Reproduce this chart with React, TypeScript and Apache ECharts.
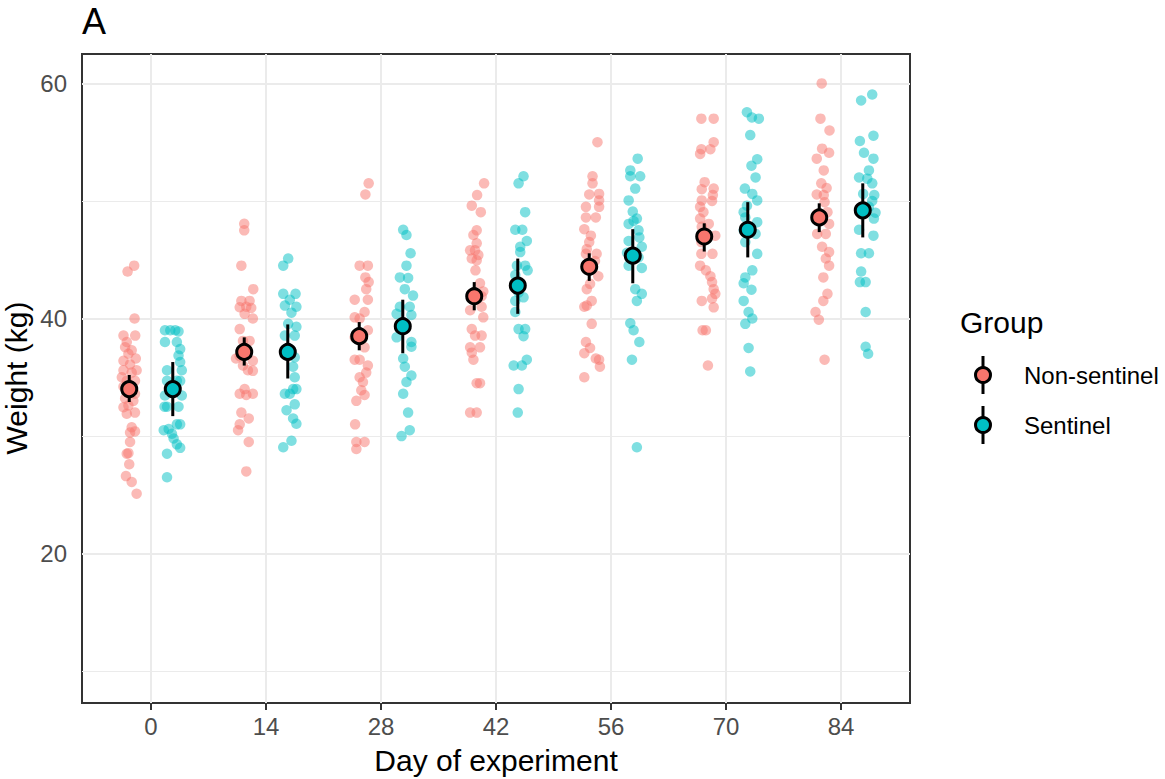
import React, { useEffect, useRef } from "react";
import * as echarts from "echarts";

const days = [0, 14, 28, 42, 56, 70, 84];
const yMajor = [20, 40, 60];
const yMinor = [10, 30, 50];

const groups = ["Non-sentinel", "Sentinel"];
const colors = ["#F8766D", "#00BFC4"];

const nsMean = [34.0, 37.16, 38.5, 41.9, 44.4, 46.98, 48.6];
const nsLo = [32.9, 36.0, 37.3, 40.7, 43.2, 45.7, 47.35];
const nsHi = [35.2, 38.4, 39.7, 43.1, 45.55, 48.1, 49.8];

const sMean = [34.0, 37.16, 39.35, 42.8, 45.35, 47.55, 49.2];
const sLo = [31.7, 34.9, 37.05, 40.4, 43.0, 45.2, 46.9];
const sHi = [36.3, 39.5, 41.6, 45.1, 47.6, 49.9, 51.5];

// individual animals: [jitter (days), weight (kg)] per day
const nsDay0 = [[-0.2,44.0],[0.6,44.5],[0.65,40.0],[-0.7,38.55],[0.73,38.55],[-0.3,38.0],[-0.5,37.56],[0.3,37.3],[-0.1,37.0],[0.8,36.6],[-0.7,36.4],[0.1,36.1],[0.9,35.6],[-0.7,35.6],[0.3,35.4],[-0.9,35.0],[-0.3,34.7],[0.7,34.7],[-0.7,34.2],[0.7,33.6],[-0.5,33.2],[0.5,33.0],[-0.1,32.6],[-0.7,32.45],[0.7,32.0],[-0.3,31.9],[0.3,30.75],[0.1,30.3],[0.7,30.4],[0.1,29.5],[-0.3,28.5],[-0.1,28.55],[0,27.6],[-0.4,26.6],[0.3,26.1],[0.9,25.1]];
const nsDay14 = [[0,48.06],[0,47.5],[-0.35,44.5],[1.1,42.5],[-0.35,41.5],[0.65,41.5],[-0.55,40.96],[0.25,41.0],[0.85,40.9],[0.05,40.4],[1.05,40.0],[-0.55,39.1],[0.65,38.1],[-0.15,38.1],[-1.0,36.6],[-0.55,36.8],[1.05,36.4],[-0.15,36.0],[0.45,35.6],[1.05,35.55],[0.05,34.0],[-0.55,33.6],[1.05,33.6],[0.25,33.5],[-0.35,32.0],[0.55,31.5],[-0.55,31.0],[-0.75,30.5],[0.55,29.5],[0.25,27.0]];
const nsDay28 = [[1.15,51.5],[0.75,50.55],[0.05,44.5],[1.05,44.5],[0.75,43.5],[1.15,43.1],[0.85,42.5],[-0.55,41.6],[1.05,41.6],[0.65,40.55],[-0.55,40.1],[0.05,40.0],[1.05,39.0],[-0.55,38.4],[0.65,37.55],[-0.55,36.5],[0.05,36.5],[1.05,36.0],[0.85,35.4],[0.05,35.0],[0.45,34.6],[0.25,33.9],[-0.35,33.0],[0.65,33.5],[-0.5,31.0],[-0.35,29.5],[0.65,29.5],[-0.35,28.9]];
const nsDay42 = [[1.2,51.5],[0.35,50.5],[-0.3,49.6],[0.8,49.05],[0.3,47.5],[-0.1,47.1],[0.3,46.4],[-0.5,45.8],[0.1,45.8],[0.5,45.4],[-0.3,45.1],[0.3,44.95],[0.15,44.1],[0.7,43.0],[1.1,42.3],[-0.3,42.1],[0.9,41.9],[-0.5,40.7],[0.9,41.0],[1.1,40.1],[-0.3,39.1],[0.9,38.55],[0.1,38.55],[-0.5,37.55],[0.7,37.55],[-0.3,37.1],[-0.1,36.5],[0.7,34.5],[0.3,34.5],[-0.5,32.0],[0.3,32.0]];
const nsDay56 = [[1.0,55.0],[0.4,52.1],[0.4,51.5],[1.2,50.6],[0,50.55],[1.2,50.05],[1.2,49.5],[-0.4,49.5],[-0.4,48.6],[0.8,48.6],[-0.6,47.6],[0.2,47.05],[0,46.5],[-0.3,45.9],[0.9,45.5],[-0.4,45.5],[0.7,44.9],[1.1,43.6],[0.1,42.95],[-0.3,42.5],[0.3,41.5],[-0.3,41.1],[-0.6,41.0],[0.3,39.55],[-0.4,38.0],[0.1,37.5],[-0.6,37.05],[0.8,36.6],[1.2,36.5],[1.3,35.9],[-0.6,35.0]];
const nsDay70 = [[-0.35,57.0],[1.15,57.0],[1.15,55.0],[0.75,54.4],[-0.35,54.4],[-0.5,54.0],[0.05,51.6],[1.15,51.05],[-0.3,51.0],[1.05,50.5],[-0.3,50.05],[0.95,50.0],[-0.5,49.5],[-0.1,49.05],[-0.5,48.5],[0.55,48.05],[-0.3,47.8],[1.35,47.05],[-0.35,46.5],[1.0,45.5],[-0.35,45.5],[-0.5,44.5],[0.2,44.1],[0.75,43.6],[0.95,43.1],[1.15,42.5],[1.35,42.1],[0.95,41.7],[-0.3,41.5],[1.15,40.95],[-0.2,39.0],[0.2,39.0],[0.45,36.0]];
const nsDay84 = [[0.3,60.0],[0.15,57.0],[1.25,56.0],[0.35,54.45],[1.2,54.1],[-0.3,53.6],[0.55,52.6],[0.25,51.5],[0.9,51.1],[-0.3,50.55],[0.55,50.5],[0.65,49.9],[1.0,49.05],[-0.25,48.9],[1.2,48.05],[-0.25,47.2],[0.8,47.2],[0.35,46.1],[1.2,45.65],[0.8,45.1],[1.2,44.5],[0.5,43.5],[1.0,42.1],[0.5,41.5],[-0.45,40.55],[-0.05,39.9],[0.65,36.5]];

const sDay0 = [[-0.95,39.0],[-0.3,39.0],[0.3,39.0],[0.7,38.9],[-0.95,38.0],[0.5,38.0],[0.9,37.4],[0.7,36.85],[0.9,36.3],[-0.7,35.6],[1.1,35.6],[0.5,34.7],[-0.7,34.7],[0.9,34.7],[-0.95,33.45],[1.1,33.45],[-0.7,32.5],[0.7,32.5],[-1.0,32.5],[0.9,31.0],[0.5,31.0],[-0.5,30.6],[-1.1,30.5],[-0.1,30.2],[0.1,29.8],[0.5,29.3],[0.9,29.0],[-0.7,28.5],[-0.7,26.5]];
const sDay14 = [[0.05,45.1],[-0.55,44.5],[-0.55,42.1],[0.95,42.1],[0.25,41.6],[-0.35,41.1],[1.05,41.0],[0.45,40.5],[0.05,39.55],[1.05,39.3],[-0.35,38.55],[0.85,38.55],[0.85,36.7],[0.65,35.9],[0.85,35.0],[1.05,34.0],[0.65,34.0],[-0.35,33.6],[0.25,33.6],[0.85,32.7],[-0.15,32.2],[0.65,31.5],[1.05,31.05],[0.45,29.6],[-0.55,29.05]];
const sDay28 = [[0.05,47.55],[0.45,47.1],[0.95,45.55],[0.45,44.5],[-0.35,43.5],[0.65,43.45],[0.25,42.5],[1.25,41.95],[-0.35,41.0],[0.85,41.0],[-0.75,40.4],[1.05,40.3],[-0.75,38.4],[1.05,38.0],[1.05,37.6],[0.05,36.6],[0.25,35.9],[1.05,35.15],[0.45,34.6],[0.05,33.6],[0.65,32.0],[0.85,30.5],[-0.15,30.0]];
const sDay42 = [[0.7,52.1],[0.1,51.5],[0.9,49.05],[-0.3,47.55],[0.55,47.55],[1.1,46.6],[0.3,46.1],[0.3,45.65],[-0.1,44.5],[0.9,44.5],[1.2,44.1],[-0.3,43.7],[-0.1,42.9],[0.1,42.2],[0.7,41.8],[-0.3,41.5],[-0.3,40.55],[0.1,39.1],[0.9,39.1],[0.7,38.5],[1.1,36.5],[-0.5,36.0],[0.5,36.0],[0.1,34.0],[0,32.0]];
const sDay56 = [[0.6,53.6],[-0.3,52.6],[0.9,52.1],[-0.3,52.1],[0.3,51.05],[-0.5,50.05],[0,49.1],[0.5,48.5],[-0.5,48.05],[0.1,48.3],[0.7,47.5],[0.8,46.9],[-0.5,46.6],[1.1,46.1],[-0.7,45.6],[0.7,45.2],[-0.5,44.5],[1.1,44.3],[0.3,42.5],[1.1,42.1],[0.5,41.5],[-0.3,39.6],[0.1,39.0],[0.8,38.0],[-0.1,36.5],[0.5,29.05]];
const sDay70 = [[-0.1,57.55],[0.5,57.1],[1.35,57.0],[0.3,55.6],[1.15,53.55],[0.45,53.0],[0.95,52.0],[-0.35,51.05],[0.55,50.6],[1.15,50.05],[-0.1,49.6],[-0.5,49.05],[-0.3,48.6],[1.15,48.2],[-0.5,47.5],[0.95,47.2],[-0.3,46.5],[1.15,45.5],[0.55,44.1],[-0.3,43.5],[-0.5,43.0],[0.45,42.45],[-0.5,41.5],[0.1,40.55],[0.55,40.0],[-0.3,39.55],[0.1,37.5],[0.3,35.5]];
const sDay84 = [[1.15,59.05],[-0.2,58.55],[1.3,55.55],[-0.35,55.1],[0.15,54.1],[1.3,53.6],[0.75,52.6],[-0.45,52.0],[0.55,51.9],[1.15,51.5],[0.05,50.6],[1.4,50.5],[1.15,50.0],[0.75,49.5],[1.55,49.0],[1.35,48.5],[-0.45,47.55],[1.3,47.05],[-0.2,45.55],[0.75,45.55],[-0.2,44.0],[-0.35,43.1],[0.35,43.1],[0.35,40.55],[0.35,37.6],[0.65,37.0]];

const nsPoints = [nsDay0, nsDay14, nsDay28, nsDay42, nsDay56, nsDay70, nsDay84];
const sPoints = [sDay0, sDay14, sDay28, sDay42, sDay56, sDay70, sDay84];

const DODGE = 2.65;
const FONT = "'Liberation Sans', Arial, Helvetica, sans-serif";

export default function App() {
  const ref = useRef<HTMLDivElement>(null);
  useEffect(() => {
    if (!ref.current) return;
    const chart = echarts.init(ref.current, undefined, { renderer: "svg" });

    const groupSeries = (gi: number) => {
      const pts = gi === 0 ? nsPoints : sPoints;
      const mean = gi === 0 ? nsMean : sMean;
      const lo = gi === 0 ? nsLo : sLo;
      const hi = gi === 0 ? nsHi : sHi;
      const off = gi === 0 ? -DODGE : DODGE;
      const raw: number[][] = [];
      days.forEach((d, i) => pts[i].forEach((p) => raw.push([d + off + p[0], p[1]])));
      return {
        jitter: {
          type: "scatter",
          name: groups[gi],
          z: 10 + gi,
          symbol: "circle",
          symbolSize: 10.5,
          itemStyle: { color: colors[gi], opacity: 0.5 },
          data: raw,
          silent: true,
        },
        bars: {
          type: "custom",
          name: groups[gi] + " CI",
          z: 20 + gi * 2,
          data: days.map((d, i) => [d + off, lo[i], hi[i]]),
          encode: { x: 0, y: [1, 2] },
          renderItem: (params: any, api: any) => {
            const x = api.value(0);
            const p1 = api.coord([x, api.value(1)]);
            const p2 = api.coord([x, api.value(2)]);
            return {
              type: "line",
              shape: { x1: p1[0], y1: p1[1], x2: p2[0], y2: p2[1] },
              style: { stroke: "#000", lineWidth: 3 },
            };
          },
          silent: true,
        },
        means: {
          type: "scatter",
          name: groups[gi] + " mean",
          z: 21 + gi * 2,
          symbol: "circle",
          symbolSize: 15,
          itemStyle: { color: colors[gi], borderColor: "#000", borderWidth: 3, opacity: 1 },
          data: days.map((d, i) => [d + off, mean[i]]),
          silent: true,
        },
      };
    };

    const g0 = groupSeries(0);
    const g1 = groupSeries(1);

    const gridLines = [
      ...yMinor.map((v) => ({ yAxis: v, lineStyle: { color: "#EBEBEB", width: 1, type: "solid" } })),
      ...yMajor.map((v) => ({ yAxis: v, lineStyle: { color: "#EBEBEB", width: 2, type: "solid" } })),
      ...days.map((v) => ({ xAxis: v, lineStyle: { color: "#EBEBEB", width: 2, type: "solid" } })),
    ];

    const legendY = [375, 425];

    chart.setOption({
      animation: false,
      backgroundColor: "#FFFFFF",
      textStyle: { fontFamily: FONT },
      grid: {
        left: 82,
        top: 54,
        width: 828,
        height: 649,
        show: true,
        borderColor: "#333333",
        borderWidth: 2,
        backgroundColor: "transparent",
        containLabel: false,
      },
      xAxis: {
        type: "value",
        min: -8.4,
        max: 92.4,
        axisLine: { show: false },
        splitLine: { show: false },
        axisTick: { show: true, length: 7, lineStyle: { color: "#333333", width: 2 }, customValues: days },
        axisLabel: { customValues: days, margin: 11, fontSize: 24, color: "#4D4D4D", fontFamily: FONT },
      },
      yAxis: {
        type: "value",
        min: 7.3,
        max: 62.5,
        axisLine: { show: false },
        splitLine: { show: false },
        axisTick: { show: true, length: 7, lineStyle: { color: "#333333", width: 2 }, customValues: yMajor },
        axisLabel: { customValues: yMajor, margin: 15, fontSize: 24, color: "#4D4D4D", fontFamily: FONT },
      },
      series: [
        {
          type: "scatter",
          name: "grid",
          data: [],
          z: 1,
          silent: true,
          markLine: {
            z: 1,
            silent: true,
            symbol: ["none", "none"],
            label: { show: false },
            emphasis: { disabled: true },
            data: gridLines,
          },
        },
        g0.jitter,
        g1.jitter,
        g0.bars,
        g0.means,
        g1.bars,
        g1.means,
      ],
      graphic: [
        { type: "text", x: 82, y: 2, style: { text: "A", fontSize: 36, lineHeight: 38, fontFamily: FONT, fill: "#000", align: "left", verticalAlign: "top" } },
        { type: "text", x: 496, y: 760, style: { text: "Day of experiment", fontSize: 30, fontFamily: FONT, fill: "#000", align: "center", verticalAlign: "middle" } },
        { type: "text", x: 16, y: 378, rotation: Math.PI / 2, style: { text: "Weight (kg)", fontSize: 30, fontFamily: FONT, fill: "#000", align: "center", verticalAlign: "middle" } },
        { type: "text", x: 960, y: 322, style: { text: "Group", fontSize: 30, fontFamily: FONT, fill: "#000", align: "left", verticalAlign: "middle" } },
        ...groups.flatMap((g, i) => [
          { type: "line", shape: { x1: 983, y1: legendY[i] - 19, x2: 983, y2: legendY[i] + 19 }, style: { stroke: "#000", lineWidth: 3 } },
          { type: "circle", shape: { cx: 983, cy: legendY[i], r: 7.5 }, style: { fill: colors[i], stroke: "#000", lineWidth: 3 } },
          { type: "text", x: 1024, y: legendY[i], style: { text: g, fontSize: 24, fontFamily: FONT, fill: "#000", align: "left", verticalAlign: "middle" } },
        ]),
      ],
    });
    return () => chart.dispose();
  }, []);
  return <div ref={ref} style={{ position: "fixed", left: 0, top: 0, width: 1165, height: 779 }} />;
}
